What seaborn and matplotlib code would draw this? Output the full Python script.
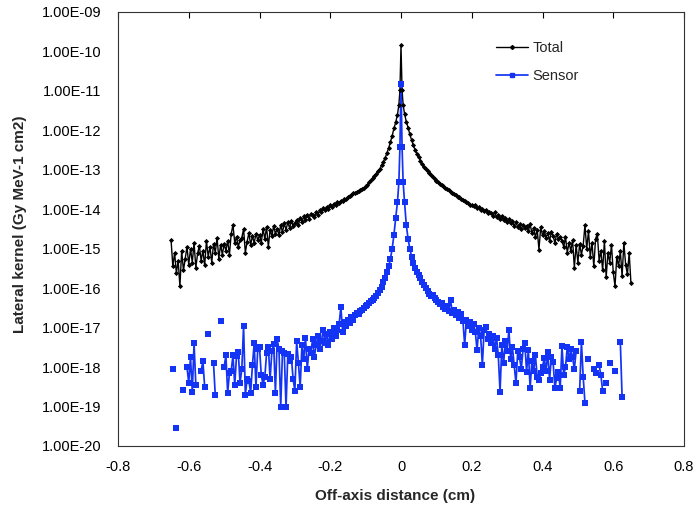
import numpy as np
import pandas as pd
import matplotlib
matplotlib.use("Agg")
import matplotlib.pyplot as plt
from matplotlib.lines import Line2D
from matplotlib.ticker import FixedLocator, FuncFormatter, NullLocator
import seaborn as sns

# ---------------- data ----------------
x_cm = [
    -0.650, -0.645, -0.640, -0.635, -0.630, -0.625, -0.620, -0.615, -0.610, -0.605,
    -0.600, -0.595, -0.590, -0.585, -0.580, -0.575, -0.570, -0.565, -0.560, -0.555,
    -0.550, -0.545, -0.540, -0.535, -0.530, -0.525, -0.520, -0.515, -0.510, -0.505,
    -0.500, -0.495, -0.490, -0.485, -0.480, -0.475, -0.470, -0.465, -0.460, -0.455,
    -0.450, -0.445, -0.440, -0.435, -0.430, -0.425, -0.420, -0.415, -0.410, -0.405,
    -0.400, -0.395, -0.390, -0.385, -0.380, -0.375, -0.370, -0.365, -0.360, -0.355,
    -0.350, -0.345, -0.340, -0.335, -0.330, -0.325, -0.320, -0.315, -0.310, -0.305,
    -0.300, -0.295, -0.290, -0.285, -0.280, -0.275, -0.270, -0.265, -0.260, -0.255,
    -0.250, -0.245, -0.240, -0.235, -0.230, -0.225, -0.220, -0.215, -0.210, -0.205,
    -0.200, -0.195, -0.190, -0.185, -0.180, -0.175, -0.170, -0.165, -0.160, -0.155,
    -0.150, -0.145, -0.140, -0.135, -0.130, -0.125, -0.120, -0.115, -0.110, -0.105,
    -0.100, -0.095, -0.090, -0.085, -0.080, -0.075, -0.070, -0.065, -0.060, -0.055,
    -0.050, -0.045, -0.040, -0.035, -0.030, -0.025, -0.020, -0.015,
    -0.010, -0.006, -0.003, 0.000, 0.003, 0.006, 0.010,
    0.015, 0.020, 0.025, 0.030, 0.035, 0.040, 0.045, 0.050,
    0.055, 0.060, 0.065, 0.070, 0.075, 0.080, 0.085, 0.090, 0.095, 0.100,
    0.105, 0.110, 0.115, 0.120, 0.125, 0.130, 0.135, 0.140, 0.145, 0.150,
    0.155, 0.160, 0.165, 0.170, 0.175, 0.180, 0.185, 0.190, 0.195, 0.200,
    0.205, 0.210, 0.215, 0.220, 0.225, 0.230, 0.235, 0.240, 0.245, 0.250,
    0.255, 0.260, 0.265, 0.270, 0.275, 0.280, 0.285, 0.290, 0.295, 0.300,
    0.305, 0.310, 0.315, 0.320, 0.325, 0.330, 0.335, 0.340, 0.345, 0.350,
    0.355, 0.360, 0.365, 0.370, 0.375, 0.380, 0.385, 0.390, 0.395, 0.400,
    0.405, 0.410, 0.415, 0.420, 0.425, 0.430, 0.435, 0.440, 0.445, 0.450,
    0.455, 0.460, 0.465, 0.470, 0.475, 0.480, 0.485, 0.490, 0.495, 0.500,
    0.505, 0.510, 0.515, 0.520, 0.525, 0.530, 0.535, 0.540, 0.545, 0.550,
    0.555, 0.560, 0.565, 0.570, 0.575, 0.580, 0.585, 0.590, 0.595, 0.600,
    0.605, 0.610, 0.615, 0.620, 0.625, 0.630, 0.635, 0.640, 0.645, 0.650,
]

# log10 of the lateral kernel (Gy MeV-1 cm2)
total_log10 = [
    -14.78, -15.45, -15.10, -15.62, -15.30, -15.95, -15.05, -15.55, -15.25, -14.95,
    -15.40, -15.00, -15.35, -14.85, -15.48, -15.12, -14.92, -15.30, -15.05, -15.42,
    -14.80, -15.20, -14.95, -15.35, -14.88, -15.10, -14.72, -15.25, -14.90, -15.15,
    -14.88, -15.05, -14.80, -15.15, -14.62, -14.40, -14.85, -14.70, -14.95, -14.78,
    -14.72, -14.50, -15.10, -14.82, -14.60, -14.90, -14.68, -14.85, -14.62, -14.78,
    -14.65, -14.85, -14.50, -14.75, -14.45, -14.95, -14.52, -14.68, -14.42, -14.62,
    -14.50, -14.65, -14.40, -14.58, -14.36, -14.52, -14.33, -14.47, -14.30, -14.42,
    -14.35, -14.28, -14.40, -14.22, -14.33, -14.18, -14.28, -14.15, -14.25, -14.12,
    -14.15, -14.20, -14.08, -14.14, -14.02, -14.08, -13.98, -14.03, -13.94, -13.99,
    -13.90, -13.95, -13.86, -13.88, -13.82, -13.85, -13.78, -13.80, -13.74, -13.73,
    -13.69, -13.66, -13.64, -13.60, -13.59, -13.55, -13.54, -13.50, -13.48, -13.46,
    -13.42, -13.38, -13.32, -13.27, -13.22, -13.16, -13.10, -13.04, -12.98, -12.89,
    -12.80, -12.70, -12.58, -12.45, -12.30, -12.14, -11.95, -11.80,
    -11.60, -11.35, -10.98, -9.84, -10.98, -11.35, -11.58,
    -11.78, -11.93, -12.10, -12.25, -12.38, -12.50, -12.60, -12.68,
    -12.77, -12.85, -12.92, -12.98, -13.03, -13.08, -13.13, -13.18, -13.23, -13.28,
    -13.30, -13.35, -13.38, -13.42, -13.45, -13.48, -13.52, -13.55, -13.58, -13.62,
    -13.63, -13.68, -13.70, -13.74, -13.76, -13.80, -13.82, -13.84, -13.88, -13.90,
    -13.92, -13.88, -13.97, -13.95, -14.02, -13.99, -14.05, -14.01, -14.10, -14.07,
    -14.10, -14.16, -14.08, -14.20, -14.14, -14.24, -14.18, -14.28, -14.22, -14.32,
    -14.25, -14.36, -14.30, -14.42, -14.33, -14.45, -14.38, -14.50, -14.40, -14.47,
    -14.42, -14.55, -14.38, -14.60, -14.48, -14.70, -14.52, -15.02, -14.45, -14.66,
    -14.55, -14.72, -14.60, -14.80, -14.58, -14.68, -14.85, -14.62, -14.75, -14.70,
    -14.80, -14.95, -14.70, -15.10, -14.85, -15.05, -14.78, -15.48, -14.90, -15.35,
    -14.88, -15.15, -14.92, -14.40, -15.00, -14.55, -15.20, -14.85, -15.45, -14.75,
    -14.62, -15.30, -15.05, -15.55, -14.80, -15.72, -15.10, -15.35, -14.90, -15.60,
    -15.95, -15.20, -15.45, -15.05, -15.70, -14.85, -15.40, -15.65, -15.10, -15.87,
]

nan = float("nan")
sensor_log10 = [
    nan, -18.05, nan, -19.55, nan, nan, nan, -18.58, nan, -18.00,
    -18.40, -17.75, -18.62, -17.40, -18.45, nan, nan, -18.10, -17.85, -18.50,
    nan, -17.16, nan, nan, -17.90, -18.72, nan, nan, -16.83, nan,
    -18.00, -17.70, -18.65, -18.15, -18.10, -17.70, -18.45, -17.72, -17.62, -18.40,
    -18.05, -16.96, -18.70, -18.30, -18.35, -18.65, -17.95, -17.40, -18.50, -17.55,
    -17.50, -18.20, -18.45, -18.25, -17.65, -17.50, -18.30, -17.60, -17.42, -18.65,
    -17.30, -17.55, -19.00, -17.60, -17.65, -19.02, -17.68, -17.85, -17.75, -18.30,
    -18.60, -17.35, -17.90, -18.50, -17.45, -17.80, -17.25, -18.05, -17.55, -17.65,
    -17.30, -17.75, -17.45, -17.20, -17.55, -17.35, -17.05, -17.40, -17.15, -17.45,
    -17.10, -17.30, -17.00, -17.20, -17.05, -16.92, -16.48, -17.10, -16.85, -16.95,
    -16.80, -16.88, -16.72, -16.80, -16.68, -16.62, -16.65, -16.58, -16.55, -16.50,
    -16.45, -16.42, -16.38, -16.33, -16.29, -16.24, -16.19, -16.12, -16.05, -15.96,
    -15.85, -15.73, -15.60, -15.45, -15.26, -15.00, -14.65, -14.22,
    -13.82, -13.31, -12.42, -10.83, -12.42, -13.31, -13.82,
    -14.40, -14.75, -15.00, -15.20, -15.36, -15.48, -15.59, -15.67,
    -15.75, -15.84, -15.91, -16.00, -16.08, -16.14, -16.20, -16.18, -16.26, -16.30,
    -16.35, -16.40, -16.38, -16.48, -16.52, -16.45, -16.58, -16.30, -16.62, -16.55,
    -16.68, -16.60, -16.75, -16.65, -16.82, -17.44, -16.80, -16.95, -16.85, -17.05,
    -16.90, -17.10, -17.57, -17.00, -17.20, -17.95, -17.05, -16.98, -17.30, -17.15,
    -17.40, -17.20, -17.55, -17.25, -17.70, -18.62, -17.45, -17.90, -17.35, -17.60,
    -17.06, -17.80, -17.50, -17.95, -18.41, -17.60, -17.75, -18.05, -17.55, -17.39,
    -18.12, -17.57, -18.53, -17.85, -18.10, -17.70, -18.25, -18.33, -18.16, -18.00,
    -17.77, -18.10, -17.62, -18.33, -17.75, -17.87, -18.53, -18.28, -18.12, -18.53,
    -17.47, -18.20, -18.00, -17.49, -17.80, -17.55, -17.75, -18.05, -17.60, nan,
    -18.60, -17.36, -18.25, -18.90, nan, -17.80, nan, nan, -18.05, -18.15,
    nan, -17.95, -18.20, -18.60, nan, -18.40, nan, -17.90, nan, nan,
    -18.10, nan, nan, -17.36, -18.76, nan, nan, nan, nan, nan,
]

series_names = ["Total", "Sensor"]
y_tick_values = [1e-9, 1e-10, 1e-11, 1e-12, 1e-13, 1e-14, 1e-15,
                 1e-16, 1e-17, 1e-18, 1e-19, 1e-20]
x_tick_values = [-0.8, -0.6, -0.4, -0.2, 0, 0.2, 0.4, 0.6, 0.8]

# ---------------- figure ----------------
sns.set_theme(style="white")
plt.rcParams["font.family"] = ["Liberation Sans", "DejaVu Sans"]

fig = plt.figure(figsize=(7.0, 5.13), dpi=100)
ax = fig.add_axes([118 / 700, 1 - 446 / 513, (684 - 118) / 700, (446 - 12) / 513])

colors = {"Total": "black", "Sensor": "#1333F5"}
markers = {"Total": "D", "Sensor": "s"}
msize = {"Total": 7, "Sensor": 14}
lwidth = {"Total": 1.0, "Sensor": 1.25}

for name, logs in zip(series_names, [total_log10, sensor_log10]):
    df = pd.DataFrame({"x": x_cm, "logv": logs})
    df["seg"] = df["logv"].isna().cumsum()
    df = df.dropna().copy()
    df["y"] = 10.0 ** df["logv"]
    sns.lineplot(data=df, x="x", y="y", units="seg", estimator=None, sort=False,
                 color=colors[name], linewidth=lwidth[name], ax=ax, legend=False)
    sns.scatterplot(data=df, x="x", y="y", marker=markers[name], s=msize[name],
                    color=colors[name], linewidth=0, ax=ax, legend=False, zorder=3)

ax.set_yscale("log")
ax.set_ylim(1e-20, 1e-9)
ax.set_xlim(-0.8, 0.8)
ax.yaxis.set_major_locator(FixedLocator(y_tick_values))
ax.yaxis.set_minor_locator(NullLocator())
ax.yaxis.set_major_formatter(FuncFormatter(lambda v, p: f"{v:.2E}"))
ax.xaxis.set_major_locator(FixedLocator(x_tick_values))
ax.xaxis.set_major_formatter(FuncFormatter(lambda v, p: f"{v:g}"))

ax.tick_params(axis="x", which="major", top=True, bottom=False, labeltop=False,
               labelbottom=True, direction="in", length=4, width=0.8,
               labelsize=10.5, pad=10, colors="black")
ax.tick_params(axis="y", which="major", left=True, right=False, direction="in",
               length=0, labelsize=10.5, pad=12, colors="black")

for sp in ax.spines.values():
    sp.set_visible(True)
    sp.set_color("#333333")
    sp.set_linewidth(0.8)

ax.set_xlabel("Off-axis distance (cm)", fontsize=11, fontweight="bold")
ax.set_ylabel("Lateral kernel (Gy MeV-1 cm2)", fontsize=11, fontweight="bold")
ax.xaxis.set_label_coords(0.49, -0.10)
ax.yaxis.set_label_coords(-0.16, 0.51)

handles = [
    Line2D([], [], color="black", lw=1.0, marker="D", markersize=2),
    Line2D([], [], color=colors["Sensor"], lw=1.25, marker="s", markersize=3.5),
]
ax.legend(handles, series_names, loc="upper left", frameon=False,
          bbox_to_anchor=((490 - 118) / 566, (446 - 35) / 434),
          fontsize=10.5, handlelength=2.2, handletextpad=0.3, labelspacing=0.95,
          borderaxespad=0)

fig.savefig("out.png", dpi=100, facecolor="white")
